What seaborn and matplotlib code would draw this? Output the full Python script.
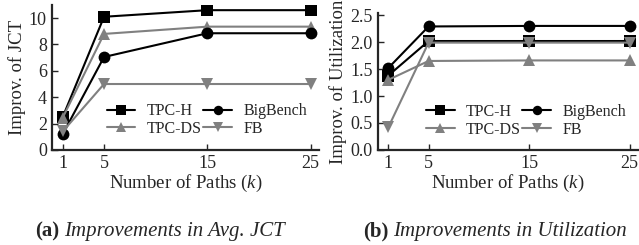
import matplotlib
matplotlib.use('Agg')
import matplotlib.pyplot as plt
import matplotlib.ticker as mticker
import seaborn as sns
import pandas as pd

paths = [1, 5, 15, 25]
workloads = ['TPC-H', 'TPC-DS', 'BigBench', 'FB']

jct_tpch = [2.5, 10.1, 10.6, 10.6]
jct_tpcds = [2.45, 8.8, 9.35, 9.35]
jct_bigbench = [1.2, 7.05, 8.85, 8.85]
jct_fb = [1.4, 5.0, 5.0, 5.0]

util_tpch = [1.38, 2.02, 2.02, 2.02]
util_tpcds = [1.3, 1.65, 1.66, 1.66]
util_bigbench = [1.52, 2.29, 2.3, 2.3]
util_fb = [0.42, 1.99, 1.99, 1.99]


def to_long(series):
    rows = []
    for name, vals in zip(workloads, series):
        for k, v in zip(paths, vals):
            rows.append({'k': k, 'value': v, 'workload': name})
    return pd.DataFrame(rows)


df_jct = to_long([jct_tpch, jct_tpcds, jct_bigbench, jct_fb])
df_util = to_long([util_tpch, util_tpcds, util_bigbench, util_fb])

sns.set_style('ticks')
plt.rcParams['font.family'] = ['Liberation Serif', 'DejaVu Serif']
plt.rcParams['mathtext.fontset'] = 'custom'
plt.rcParams['mathtext.it'] = 'Liberation Serif:italic'
plt.rcParams['mathtext.rm'] = 'Liberation Serif'

palette = {'TPC-H': 'black', 'TPC-DS': '#808080', 'BigBench': 'black', 'FB': '#808080'}
markers = {'TPC-H': 's', 'TPC-DS': '^', 'BigBench': 'o', 'FB': 'v'}

fig = plt.figure(figsize=(6.39, 2.45), dpi=100)
ax1 = fig.add_axes([0.082, 0.388, 0.417, 0.592])
ax2 = fig.add_axes([0.592, 0.388, 0.406, 0.559])


def draw(ax, df, ylabel, ylim, yticks):
    sns.lineplot(data=df, x='k', y='value', hue='workload', style='workload',
                 hue_order=workloads, style_order=workloads,
                 palette=palette, markers=markers, dashes=False,
                 linewidth=1.5, markersize=8.5, markeredgewidth=0, ax=ax)
    ax.set_xlim(0, 25.8)
    ax.set_ylim(*ylim)
    ax.set_xticks(paths)
    ax.set_yticks(yticks)
    ax.set_xlabel('Number of Paths ($k$)', fontsize=13.5, labelpad=0)
    ax.set_ylabel(ylabel, fontsize=13.5, labelpad=2)
    ax.tick_params(direction='in', labelsize=13, length=4, width=1, pad=4)
    for s in ['top', 'right']:
        ax.spines[s].set_visible(False)
    for s in ['left', 'bottom']:
        ax.spines[s].set_linewidth(1.6)
    ax.legend(ncol=2, frameon=False, fontsize=11.5, loc='lower right',
              bbox_to_anchor=(0.955, 0.09), handlelength=1.8,
              columnspacing=0.1, handletextpad=0.7, labelspacing=0.1,
              borderaxespad=0, borderpad=0, markerscale=0.8)


draw(ax1, df_jct, 'Improv. of JCT', (0, 11), [0, 2, 4, 6, 8, 10])
draw(ax2, df_util, 'Improv. of Utilization', (0, 2.54), [0.0, 0.5, 1.0, 1.5, 2.0, 2.5])
ax2.yaxis.set_major_formatter(mticker.FormatStrFormatter('%.1f'))

fig.text(35 / 639, 0.055, '(a)', fontsize=15, fontweight='bold', ha='left', va='center')
fig.text(64 / 639, 0.055, 'Improvements in Avg. JCT', fontsize=15, style='italic', ha='left', va='center')
fig.text(363 / 639, 0.055, '(b)', fontsize=15, fontweight='bold', ha='left', va='center')
fig.text(393 / 639, 0.055, 'Improvements in Utilization', fontsize=15, style='italic', ha='left', va='center')

fig.savefig('out.png', dpi=100)
